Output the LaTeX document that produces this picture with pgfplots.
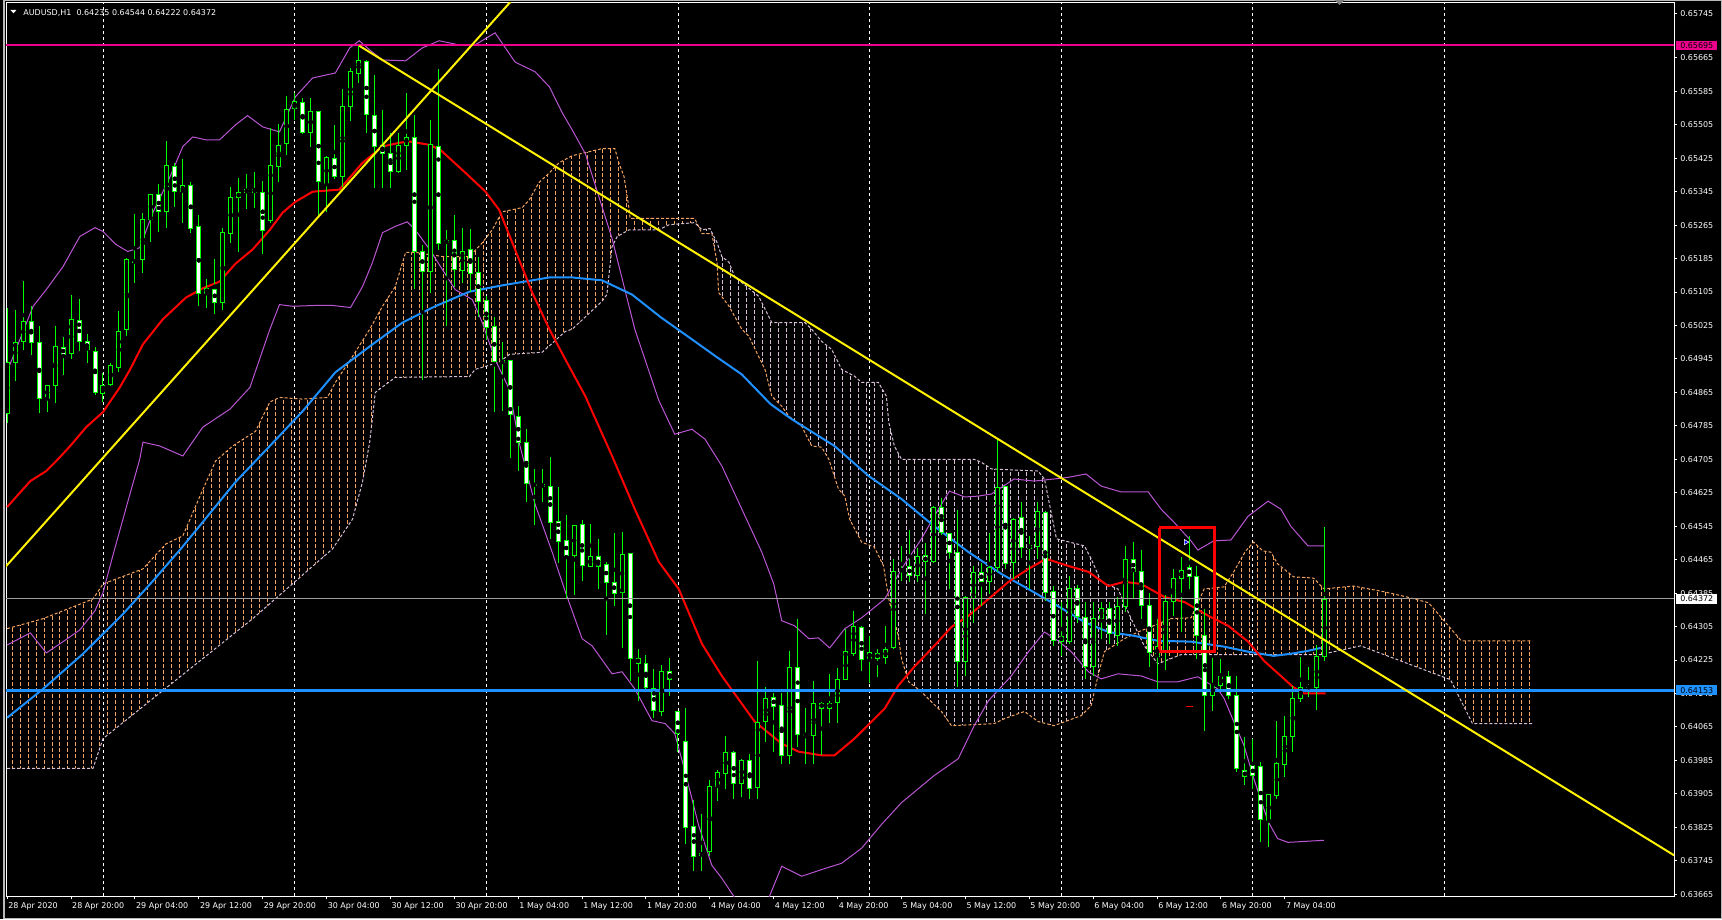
\documentclass[border=0pt]{standalone}
\usepackage{pgfplots}
\pgfplotsset{compat=1.18}
\usepackage{pgfplotstable}
\usepgfplotslibrary{fillbetween}
\usetikzlibrary{patterns}
\usepackage{fontspec}
\setmainfont{DejaVu Sans}

\definecolor{candle}{RGB}{0,255,0}
\definecolor{sandy}{RGB}{244,164,96}
\definecolor{thistl}{RGB}{216,191,216}
\definecolor{dodger}{RGB}{30,144,255}
\definecolor{orchid}{RGB}{186,85,211}

% vertical dashed hatching of the cloud, one line per bar (8pt)
\pgfdeclarepatternformonly{cloudhatch}{\pgfqpoint{-1pt}{-1pt}}{\pgfqpoint{9pt}{7pt}}{\pgfqpoint{8pt}{6pt}}{%
  \pgfsetlinewidth{0.8pt}%
  \pgfpathmoveto{\pgfqpoint{4pt}{0pt}}%
  \pgfpathlineto{\pgfqpoint{4pt}{4pt}}%
  \pgfusepath{stroke}%
}

% bars: i open high low close (bar 0 = 28 Apr 12:00, H1)
\pgfplotstableread{
i o h l c
0 0.64815 0.65068 0.64794 0.64937
1 0.64937 0.65061 0.64892 0.64985
2 0.64987 0.65133 0.64968 0.65035
5 0.64851 0.64882 0.64818 0.64882
6 0.64882 0.65025 0.64841 0.64975
8 0.64958 0.65099 0.64946 0.65040
12 0.64863 0.64911 0.64841 0.64882
13 0.64884 0.64937 0.64880 0.64930
14 0.64925 0.65059 0.64913 0.65011
15 0.65016 0.65188 0.65001 0.65183
16 0.65178 0.65293 0.65128 0.65179
17 0.65183 0.65295 0.65152 0.65278
18 0.65281 0.65340 0.65226 0.65340
20 0.65297 0.65467 0.65259 0.65407
22 0.65345 0.65424 0.65271 0.65360
25 0.65102 0.65137 0.65068 0.65114
27 0.65080 0.65259 0.65061 0.65247
28 0.65245 0.65357 0.65223 0.65333
29 0.65333 0.65379 0.65202 0.65343
30 0.65345 0.65388 0.65305 0.65352
33 0.65276 0.65498 0.65270 0.65407
34 0.65407 0.65507 0.65369 0.65457
35 0.65460 0.65574 0.65433 0.65543
36 0.65546 0.65581 0.65517 0.65562
38 0.65488 0.65569 0.65453 0.65538
40 0.65364 0.65431 0.65297 0.65426
42 0.65383 0.65591 0.65357 0.65550
43 0.65548 0.65641 0.65515 0.65632
44 0.65629 0.65695 0.65605 0.65660
49 0.65395 0.65486 0.65390 0.65457
50 0.65457 0.65581 0.65398 0.65476
53 0.65154 0.65517 0.65104 0.65460
55 0.65223 0.65254 0.65025 0.65228
57 0.65157 0.65259 0.65128 0.65202
62 0.64937 0.64985 0.64820 0.64942
71 0.64476 0.64550 0.64383 0.64548
73 0.64450 0.64550 0.64448 0.64474
77 0.64386 0.64531 0.64254 0.64479
82 0.64102 0.64214 0.64092 0.64199
88 0.63767 0.63939 0.63758 0.63923
89 0.63923 0.63961 0.63887 0.63956
90 0.63954 0.64044 0.63918 0.64006
92 0.63930 0.63989 0.63899 0.63985
94 0.63920 0.64223 0.63894 0.64075
95 0.64078 0.64161 0.64030 0.64133
98 0.63997 0.64247 0.63977 0.64209
101 0.64045 0.64175 0.63977 0.64121
103 0.64111 0.64192 0.64075 0.64123
104 0.64123 0.64207 0.64075 0.64180
105 0.64180 0.64300 0.64178 0.64245
106 0.64242 0.64343 0.64235 0.64307
108 0.64230 0.64283 0.64171 0.64245
110 0.64230 0.64307 0.64216 0.64250
111 0.64257 0.64467 0.64252 0.64438
112 0.64440 0.64498 0.64414 0.64441
114 0.64428 0.64495 0.64414 0.64474
116 0.64460 0.64593 0.64457 0.64591
120 0.64223 0.64378 0.64187 0.64376
121 0.64374 0.64450 0.64314 0.64436
123 0.64414 0.64529 0.64383 0.64448
124 0.64448 0.64753 0.64436 0.64639
126 0.64460 0.64564 0.64419 0.64562
128 0.64493 0.64522 0.64395 0.64500
129 0.64498 0.64603 0.64467 0.64581
132 0.64271 0.64364 0.64235 0.64283
133 0.64269 0.64426 0.64264 0.64397
136 0.64211 0.64364 0.64187 0.64326
137 0.64326 0.64366 0.64276 0.64350
139 0.64285 0.64378 0.64259 0.64355
140 0.64355 0.64498 0.64340 0.64467
144 0.64235 0.64324 0.64149 0.64259
145 0.64245 0.64383 0.64202 0.64366
146 0.64366 0.64443 0.64331 0.64421
147 0.64421 0.64472 0.64292 0.64441
151 0.64140 0.64230 0.64104 0.64166
152 0.64166 0.64228 0.64152 0.64187
158 0.63841 0.63905 0.63779 0.63903
159 0.63901 0.64080 0.63894 0.63977
160 0.63975 0.64092 0.63946 0.64042
161 0.64042 0.64164 0.64006 0.64133
162 0.64133 0.64233 0.64125 0.64161
163 0.64161 0.64209 0.64137 0.64162
164 0.64161 0.64261 0.64106 0.64235
165 0.64235 0.64544 0.64222 0.64372
}\bull

\pgfplotstableread{
i o h l c
3 0.65035 0.65071 0.64954 0.64985
4 0.64985 0.65023 0.64815 0.64851
7 0.64975 0.64999 0.64908 0.64956
9 0.65037 0.65090 0.64966 0.64987
10 0.64987 0.65006 0.64937 0.64966
11 0.64963 0.64975 0.64860 0.64865
19 0.65340 0.65364 0.65250 0.65297
21 0.65407 0.65412 0.65307 0.65348
23 0.65362 0.65369 0.65247 0.65259
24 0.65262 0.65290 0.65073 0.65102
26 0.65111 0.65185 0.65052 0.65080
31 0.65352 0.65393 0.65307 0.65345
32 0.65343 0.65371 0.65197 0.65252
37 0.65560 0.65569 0.65484 0.65488
39 0.65538 0.65540 0.65290 0.65371
41 0.65426 0.65505 0.65376 0.65383
45 0.65658 0.65660 0.65486 0.65529
46 0.65529 0.65627 0.65357 0.65453
47 0.65455 0.65541 0.65355 0.65436
48 0.65436 0.65486 0.65355 0.65393
51 0.65476 0.65531 0.65114 0.65202
52 0.65202 0.65219 0.64896 0.65154
54 0.65455 0.65639 0.65207 0.65223
56 0.65228 0.65290 0.65118 0.65159
58 0.65207 0.65257 0.65106 0.65149
59 0.65154 0.65190 0.65047 0.65085
60 0.65085 0.65095 0.64990 0.65021
61 0.65023 0.65047 0.64820 0.64939
63 0.64942 0.64944 0.64708 0.64813
64 0.64808 0.64832 0.64677 0.64746
65 0.64746 0.64779 0.64603 0.64646
66 0.64646 0.64682 0.64548 0.64643
67 0.64646 0.64682 0.64603 0.64641
68 0.64641 0.64710 0.64515 0.64555
69 0.64557 0.64639 0.64457 0.64510
70 0.64510 0.64572 0.64371 0.64476
72 0.64548 0.64562 0.64414 0.64450
74 0.64474 0.64515 0.64397 0.64450
75 0.64455 0.64460 0.64285 0.64412
76 0.64412 0.64529 0.64355 0.64386
78 0.64481 0.64483 0.64175 0.64230
79 0.64230 0.64254 0.64130 0.64218
80 0.64218 0.64238 0.64149 0.64159
81 0.64159 0.64204 0.64087 0.64106
83 0.64199 0.64230 0.64140 0.64178
84 0.64102 0.64104 0.64006 0.64049
85 0.64032 0.64111 0.63786 0.63827
86 0.63827 0.63892 0.63722 0.63755
87 0.63765 0.63856 0.63720 0.63758
91 0.64004 0.64008 0.63894 0.63930
93 0.63985 0.64001 0.63894 0.63918
96 0.64137 0.64147 0.64006 0.64116
97 0.64116 0.64147 0.63977 0.63997
99 0.64209 0.64324 0.64018 0.64047
100 0.64047 0.64111 0.63977 0.64045
102 0.64123 0.64125 0.63997 0.64111
107 0.64304 0.64307 0.64199 0.64228
109 0.64242 0.64252 0.64185 0.64230
113 0.64448 0.64536 0.64412 0.64428
115 0.64474 0.64507 0.64335 0.64460
117 0.64591 0.64615 0.64526 0.64531
118 0.64529 0.64531 0.64395 0.64483
119 0.64483 0.64586 0.64161 0.64223
122 0.64436 0.64457 0.64355 0.64414
125 0.64639 0.64641 0.64443 0.64457
127 0.64567 0.64603 0.64469 0.64493
130 0.64579 0.64581 0.64366 0.64388
131 0.64388 0.64402 0.64259 0.64271
134 0.64397 0.64407 0.64316 0.64331
135 0.64328 0.64364 0.64180 0.64211
138 0.64350 0.64366 0.64264 0.64290
141 0.64467 0.64507 0.64374 0.64438
142 0.64438 0.64488 0.64324 0.64357
143 0.64357 0.64388 0.64209 0.64245
148 0.64448 0.64522 0.64395 0.64426
149 0.64426 0.64450 0.64228 0.64285
150 0.64285 0.64347 0.64056 0.64140
153 0.64187 0.64199 0.64133 0.64142
154 0.64142 0.64187 0.63958 0.63966
155 0.63961 0.64042 0.63927 0.63946
156 0.63973 0.64037 0.63918 0.63949
157 0.63970 0.63982 0.63791 0.63844
}\bear

\begin{document}
\pagecolor{black}
\begin{tikzpicture}
\path (-3pt,-23pt) rectangle (1719pt,898pt);
\begin{axis}[
  at={(0,0)}, anchor=south west,
  scale only axis, width=1671pt, height=895pt,
  xmin=-0.125, xmax=208.75, ymin=0.636599, ymax=0.657963,
  axis background/.style={fill=black},
  axis line style={white, line width=1pt},
  xtick pos=bottom, ytick pos=right, yticklabel pos=right,
  tick align=outside, major tick length=3pt,
  tick style={white, line width=1pt},
  xtick={0,8,...,160},
  xticklabels={28 Apr 2020,28 Apr 20:00,29 Apr 04:00,29 Apr 12:00,29 Apr 20:00,
    30 Apr 04:00,30 Apr 12:00,30 Apr 20:00,1 May 04:00,1 May 12:00,1 May 20:00,
    4 May 04:00,4 May 12:00,4 May 20:00,5 May 04:00,5 May 12:00,5 May 20:00,
    6 May 04:00,6 May 12:00,6 May 20:00,7 May 04:00},
  ytick={0.63665,0.63745,0.63825,0.63905,0.63985,0.64065,0.64145,0.64225,0.64305,
    0.64385,0.64465,0.64545,0.64625,0.64705,0.64785,0.64865,0.64945,0.65025,
    0.65105,0.65185,0.65265,0.65345,0.65425,0.65505,0.65585,0.65665,0.6577},
  yticklabels={0.63665,0.63745,0.63825,0.63905,0.63985,0.64065,0.64145,0.64225,0.64305,
    0.64385,0.64465,0.64545,0.64625,0.64705,0.64785,0.64865,0.64945,0.65025,
    0.65105,0.65185,0.65265,0.65345,0.65425,0.65505,0.65585,0.65665,0.65745},
  xticklabel style={font=\fontsize{8}{9}\selectfont, text=white, anchor=north west,
    inner sep=0pt, xshift=1pt, yshift=-3pt},
  yticklabel style={font=\fontsize{8}{9}\selectfont, text=white, anchor=west,
    inner sep=0pt, xshift=3pt},
  extra x ticks={12,36,60,84,108,132,156,180},
  extra x tick labels={},
  extra x tick style={grid=major, major tick length=0pt,
    major grid style={white, line width=0.8pt, dash pattern=on 3pt off 3pt}},
]

% Ichimoku cloud: span A (sandy) and span B (thistle)
\addplot[name path=spanA, sandy, line width=1pt, dash pattern=on 3pt off 2pt] coordinates {
(0,0.64300) (4.5,0.64324) (10.75,0.64371) (12,0.64407) (17,0.64443) (19.9,0.64503)
(22,0.64522) (24.1,0.64615) (26.1,0.64701) (28.25,0.64737) (31.1,0.64772) (32.9,0.64842)
(34.1,0.64853) (37,0.64849) (40.1,0.64853) (41.1,0.64889) (43.25,0.64951) (45.4,0.65016)
(47,0.65071) (48.6,0.65118) (49.9,0.65200) (51.1,0.65200) (54.5,0.65190) (57.9,0.65190)
(59.5,0.65223) (60.75,0.65254) (62,0.65297) (64.5,0.65307) (65.4,0.65326) (66.6,0.65367)
(67.9,0.65390) (69.1,0.65414) (70.75,0.65431) (74.5,0.65448) (76.1,0.65448) (76.6,0.65414)
(77.25,0.65381) (77.9,0.65302) (78,0.65281) (86.1,0.65281) (87,0.65245) (88.25,0.65245)
(88.9,0.65176) (89.1,0.65104) (90.4,0.65071) (92,0.65016) (92.9,0.64999) (94.1,0.64951)
(94.9,0.64920) (95.75,0.64856) (97,0.64832) (97.9,0.64808) (99.5,0.64784) (100.75,0.64737)
(102,0.64734) (102.9,0.64705) (104.1,0.64634) (104.9,0.64617) (105.5,0.64562)
(107,0.64507) (108.6,0.64495) (109.75,0.64450) (110.4,0.64371) (111.6,0.64283) (112,0.64228)
(112.9,0.64173) (114.5,0.64149) (115.75,0.64125) (117,0.64102) (118.25,0.64068) (123.6,0.64073)
(124.9,0.64085) (127.4,0.64102) (129.1,0.64078) (131.1,0.64068) (134.5,0.64092) (135.75,0.64116)
(136.6,0.64187) (137.4,0.64245) (139.9,0.64276) (141.6,0.64292) (145.75,0.64324) (148.25,0.64326)
(149.9,0.64395) (152.4,0.64400) (153.6,0.64436) (155.1,0.64486) (156.1,0.64507) (157.25,0.64486)
(158.25,0.64483) (159.1,0.64455) (161.1,0.64424) (163.6,0.64421) (164.9,0.64395) (168.6,0.64402)
(172.5,0.64388) (175.25,0.64376) (178,0.64362) (182.1,0.64271) (191,0.64271)
};
\addplot[name path=spanB, thistl, line width=1pt, dash pattern=on 3pt off 2pt] coordinates {
(0,0.63966) (10.75,0.63966) (12,0.64037) (18.25,0.64133) (30.75,0.64324) (40.75,0.64491)
(43.25,0.64562) (44.5,0.64651) (45.4,0.64746) (46.1,0.64865) (48.6,0.64901) (57.9,0.64903)
(58.6,0.64920) (61.6,0.64937) (62.9,0.64956) (67,0.64961) (69.9,0.65011) (70.75,0.65016)
(74.5,0.65083) (75.1,0.65099) (75.75,0.65214) (76.4,0.65238) (77.9,0.65254) (81.6,0.65254)
(82.9,0.65266) (86.1,0.65271) (87,0.65254) (88,0.65257) (88.9,0.65223) (89.5,0.65190)
(90.4,0.65176) (91.1,0.65142) (94.1,0.65095) (95.75,0.65032) (99.9,0.65032) (100.75,0.65016)
(102,0.64987) (103.25,0.64968) (104.5,0.64920) (106.1,0.64904) (107,0.64889) (109.1,0.64889)
(110.1,0.64856) (110.4,0.64794) (111.1,0.64737) (112,0.64705) (121.1,0.64705) (122,0.64698)
(123.25,0.64682) (129.1,0.64677) (129.9,0.64658) (131.4,0.64515) (134.9,0.64498)
(135.75,0.64467) (137,0.64412) (139.1,0.64395) (140.75,0.64324) (142.4,0.64259) (144.1,0.64216)
(147,0.64238) (164.5,0.64238) (169.5,0.64259) (180.75,0.64178) (183.5,0.64073) (191,0.64073)
};
\addplot[pattern=cloudhatch, pattern color=sandy, draw=none] fill between[of=spanA and spanB, soft clip={domain=-1:86.5}];
\addplot[pattern=cloudhatch, pattern color=thistl, draw=none] fill between[of=spanA and spanB, soft clip={domain=86.5:141.5}];
\addplot[pattern=cloudhatch, pattern color=sandy, draw=none] fill between[of=spanA and spanB, soft clip={domain=141.5:192}];

% Bollinger bands
\addplot[orchid, line width=1pt] coordinates {
(0,0.64915) (3.25,0.65071) (4.9,0.65111) (7,0.65166) (9.1,0.65238) (11,0.65259) (12,0.65250)
(13.6,0.65219) (15.1,0.65202) (16.6,0.65211) (18.25,0.65295) (20.4,0.65381) (22,0.65453)
(23.25,0.65476) (24.9,0.65469) (26.6,0.65469) (28.6,0.65505) (30.1,0.65527) (32,0.65500)
(34.1,0.65488) (36.1,0.65572) (38.25,0.65617) (41.1,0.65629) (42.9,0.65689) (44.1,0.65706)
(45.4,0.65684) (47,0.65660) (49.9,0.65658) (52,0.65689) (54.1,0.65706) (56.6,0.65696)
(58.6,0.65696) (61.1,0.65725) (63.6,0.65655) (66.1,0.65632) (67.9,0.65596) (69.5,0.65534)
(70.75,0.65493) (72.4,0.65436) (75.75,0.65233) (78.6,0.65016) (81.6,0.64846) (83.6,0.64765)
(85.75,0.64777) (87.4,0.64753) (89.5,0.64689) (92,0.64586) (94.5,0.64483) (96,0.64407)
(97,0.64319) (98.6,0.64307) (100.4,0.64276) (101.6,0.64278) (103,0.64254) (104.9,0.64300)
(107,0.64326) (109.9,0.64371) (112,0.64443) (114.5,0.64515) (116.1,0.64569) (118,0.64629)
(119.9,0.64615) (121.6,0.64617) (123.25,0.64622) (126.1,0.64658) (128.6,0.64653) (131.1,0.64658)
(132.9,0.64662) (135.1,0.64670) (137,0.64641) (139.5,0.64627) (142.9,0.64627) (144.5,0.64586)
(146.1,0.64555) (148.25,0.64510) (149.1,0.64488) (151.1,0.64510) (153.25,0.64512) (155.4,0.64569)
(157.9,0.64605) (159.5,0.64586) (160.75,0.64545) (162.9,0.64498) (164.9,0.64498)
};
\addplot[orchid, line width=1pt] coordinates {
(0,0.64261) (2.9,0.64290) (4.9,0.64242) (7,0.64269) (9.1,0.64297) (11,0.64343) (12,0.64386)
(13.25,0.64476) (15.1,0.64603) (16.6,0.64705) (17,0.64746) (19.1,0.64737) (22,0.64713)
(24.5,0.64782) (27.9,0.64825) (30.4,0.64877) (32.9,0.65016) (34.1,0.65075) (35.75,0.65071)
(38.6,0.65073) (40.75,0.65073) (43,0.65068) (44.5,0.65118) (45.75,0.65176) (47,0.65247)
(48.6,0.65262) (50.1,0.65273) (51.1,0.65254) (52.9,0.65207) (54.5,0.65159) (56.1,0.65111)
(58.25,0.65087) (59.5,0.65032) (61.1,0.64944) (62.9,0.64872) (64.1,0.64746) (66.1,0.64598)
(68.25,0.64483) (69.9,0.64388) (72,0.64276) (73.25,0.64259) (75.75,0.64192) (77,0.64197)
(78.6,0.64156) (80.75,0.64080) (82.4,0.64073) (83.6,0.64049) (84.9,0.63958) (86.6,0.63829)
(88.25,0.63734) (89.5,0.63703) (92,0.63631) (94.5,0.63615) (97,0.63732) (99.5,0.63708)
(102,0.63724) (104.5,0.63739) (107,0.63775) (109.5,0.63832) (112,0.63884) (116.1,0.63949)
(119.1,0.63989) (121.1,0.64068) (122.9,0.64128) (125.75,0.64187) (127.9,0.64245) (129.9,0.64292)
(131.6,0.64271) (133.25,0.64245) (135.4,0.64197) (137,0.64180) (139.1,0.64192) (142,0.64187)
(144.1,0.64173) (146.6,0.64173) (149.1,0.64185) (151.6,0.64156) (152.4,0.64133) (153.6,0.64078)
(154.9,0.64020) (156.1,0.63942) (157.9,0.63839) (159.1,0.63798) (160.4,0.63789) (164.9,0.63794)
};

% moving averages
\addplot[dodger, line width=2pt] coordinates {
(0,0.64087) (4.5,0.64156) (9.5,0.64240) (14.5,0.64335) (18.25,0.64414) (21.75,0.64491)
(24.5,0.64555) (28.6,0.64651) (32.9,0.64737) (37,0.64820) (41.1,0.64913) (45.4,0.64975)
(49.5,0.65032) (53.6,0.65071) (57.9,0.65106) (62,0.65121) (67.9,0.65140) (70.75,0.65140)
(74.5,0.65133) (78.25,0.65099) (81.9,0.65044) (85.75,0.64992) (88.75,0.64951) (92,0.64908)
(95.6,0.64837) (98.25,0.64801) (103.6,0.64737) (107.9,0.64665) (112,0.64610) (116.1,0.64545)
(120.4,0.64483) (124.5,0.64431) (127.4,0.64400) (131.6,0.64354) (134.9,0.64316) (137.9,0.64292)
(141.1,0.64283) (144.1,0.64271) (148.25,0.64269) (152.4,0.64257) (155.4,0.64245) (158.6,0.64235)
(160.75,0.64240) (162.9,0.64247) (164.5,0.64254)
};
\addplot[red, line width=2pt] coordinates {
(0,0.64591) (2.9,0.64653) (4.9,0.64677) (6.6,0.64710) (7.9,0.64737) (9.9,0.64782) (12,0.64818)
(14.1,0.64877) (15.4,0.64920) (17,0.64980) (19.5,0.65040) (22.4,0.65092) (24.5,0.65114)
(26.6,0.65130) (28.6,0.65173) (30.75,0.65207) (32.9,0.65254) (34.5,0.65295) (36.1,0.65321)
(38.25,0.65345) (41.6,0.65350) (44.5,0.65414) (47,0.65453) (49.1,0.65462) (50.4,0.65465)
(52.9,0.65457) (54.25,0.65445) (57.4,0.65390) (59.9,0.65345) (61.6,0.65302) (63.6,0.65207)
(65.75,0.65104) (67.9,0.65016) (69.9,0.64944) (72.4,0.64856) (75.75,0.64713) (78.6,0.64586)
(81.6,0.64460) (84.1,0.64395) (87,0.64264) (89.5,0.64187) (93.6,0.64078) (97,0.64025)
(99.1,0.64006) (102,0.63997) (103.6,0.63997) (106.1,0.64037) (109.9,0.64109) (111.6,0.64164)
(113.6,0.64209) (116.1,0.64259) (118.25,0.64304) (120.4,0.64331) (122.9,0.64371) (125.4,0.64412)
(127.9,0.64443) (130.1,0.64467) (132.9,0.64450) (135.4,0.64436) (137.9,0.64402) (139.9,0.64412)
(142,0.64407) (144.9,0.64376) (147.4,0.64364) (150.4,0.64331) (152.9,0.64307) (155.4,0.64269)
(157.4,0.64223) (159.5,0.64187) (161,0.64161) (162.4,0.64145) (165.1,0.64145)
};

% candles: wicks, then bodies (outline + fill)
\addplot[only marks, mark=none, error bars/.cd, y dir=both, y explicit, error mark=none,
  error bar style={candle, line width=1pt}]
  table[x=i, y expr={(\thisrow{h}+\thisrow{l})/2}, y error expr={(\thisrow{h}-\thisrow{l})/2}] {\bull};
\addplot[only marks, mark=none, error bars/.cd, y dir=both, y explicit, error mark=none,
  error bar style={candle, line width=1pt}]
  table[x=i, y expr={(\thisrow{h}+\thisrow{l})/2}, y error expr={(\thisrow{h}-\thisrow{l})/2}] {\bear};
\addplot[only marks, mark=none, error bars/.cd, y dir=both, y explicit, error mark=none,
  error bar style={candle, line width=5pt}]
  table[x=i, y expr={(\thisrow{o}+\thisrow{c})/2}, y error expr={abs(\thisrow{c}-\thisrow{o})/2+0.000012}] {\bull};
\addplot[only marks, mark=none, error bars/.cd, y dir=both, y explicit, error mark=none,
  error bar style={black, line width=3pt}]
  table[x=i, y expr={(\thisrow{o}+\thisrow{c})/2}, y error expr={max(abs(\thisrow{c}-\thisrow{o})/2-0.000012,0)}] {\bull};
\addplot[only marks, mark=none, error bars/.cd, y dir=both, y explicit, error mark=none,
  error bar style={candle, line width=5pt}]
  table[x=i, y expr={(\thisrow{o}+\thisrow{c})/2}, y error expr={abs(\thisrow{c}-\thisrow{o})/2+0.000012}] {\bear};
\addplot[only marks, mark=none, error bars/.cd, y dir=both, y explicit, error mark=none,
  error bar style={white, line width=3pt}]
  table[x=i, y expr={(\thisrow{o}+\thisrow{c})/2}, y error expr={max(abs(\thisrow{c}-\thisrow{o})/2-0.000012,0)}] {\bear};

% horizontal levels
\addplot[gray!75, line width=1pt] coordinates {(-1,0.64372) (210,0.64372)};
\addplot[dodger, line width=3pt] coordinates {(-1,0.64153) (210,0.64153)};
\addplot[magenta, line width=2pt] coordinates {(-1,0.65695) (210,0.65695)};
% trend lines
\addplot[yellow, line width=2pt] coordinates {(-1,0.64431) (70,0.65948)};
\addplot[yellow, line width=2pt] coordinates {(44.09,0.65694) (208.75,0.63758)};
% marked zone
\addplot[red, line width=3pt] coordinates {(144.3,0.64541) (151.2,0.64541) (151.2,0.64245) (144.3,0.64245) (144.3,0.64541)};
\addplot[red, line width=1pt] coordinates {(147.6,0.64113) (148.5,0.64113)};
\addplot[only marks, mark=triangle*, mark size=3pt,
  mark options={rotate=-90, fill=blue, draw=white, line width=0.6pt}] coordinates {(147.6,0.64507)};

\coordinate (mg) at (axis cs:208.75,0.65695);
\coordinate (gr) at (axis cs:208.75,0.64372);
\coordinate (bl) at (axis cs:208.75,0.64153);
\end{axis}
\draw[gray!55, line width=1.5pt] (-2.25pt,-22.25pt) rectangle (1718.25pt,897.25pt);
% price boxes on the scale
\node[fill=magenta, text=black, anchor=west, inner sep=0pt, minimum width=41pt, minimum height=9.5pt,
  font=\fontsize{8}{9}\selectfont, xshift=2pt] at (mg) {0.65695};
\node[fill=white, text=black, anchor=west, inner sep=0pt, minimum width=41pt, minimum height=10pt,
  font=\fontsize{8}{9}\selectfont, xshift=2pt] at (gr) {0.64372};
\node[fill=dodger, text=black, anchor=west, inner sep=0pt, minimum width=41pt, minimum height=10pt,
  font=\fontsize{8}{9}\selectfont, xshift=2pt] at (bl) {0.64153};
% header
\fill[white] (4.3pt,888pt) -- (10.3pt,888pt) -- (7.3pt,884.7pt) -- cycle;
\node[anchor=base west, inner sep=0pt, text=white, font=\fontsize{8}{9}\selectfont]
  at (17pt,882.5pt) {AUDUSD,H1\ \ 0.64235 0.64544 0.64222 0.64372};
\fill[gray] (1331pt,898pt) -- (1341pt,898pt) -- (1336pt,893pt) -- cycle;
\end{tikzpicture}
\end{document}
